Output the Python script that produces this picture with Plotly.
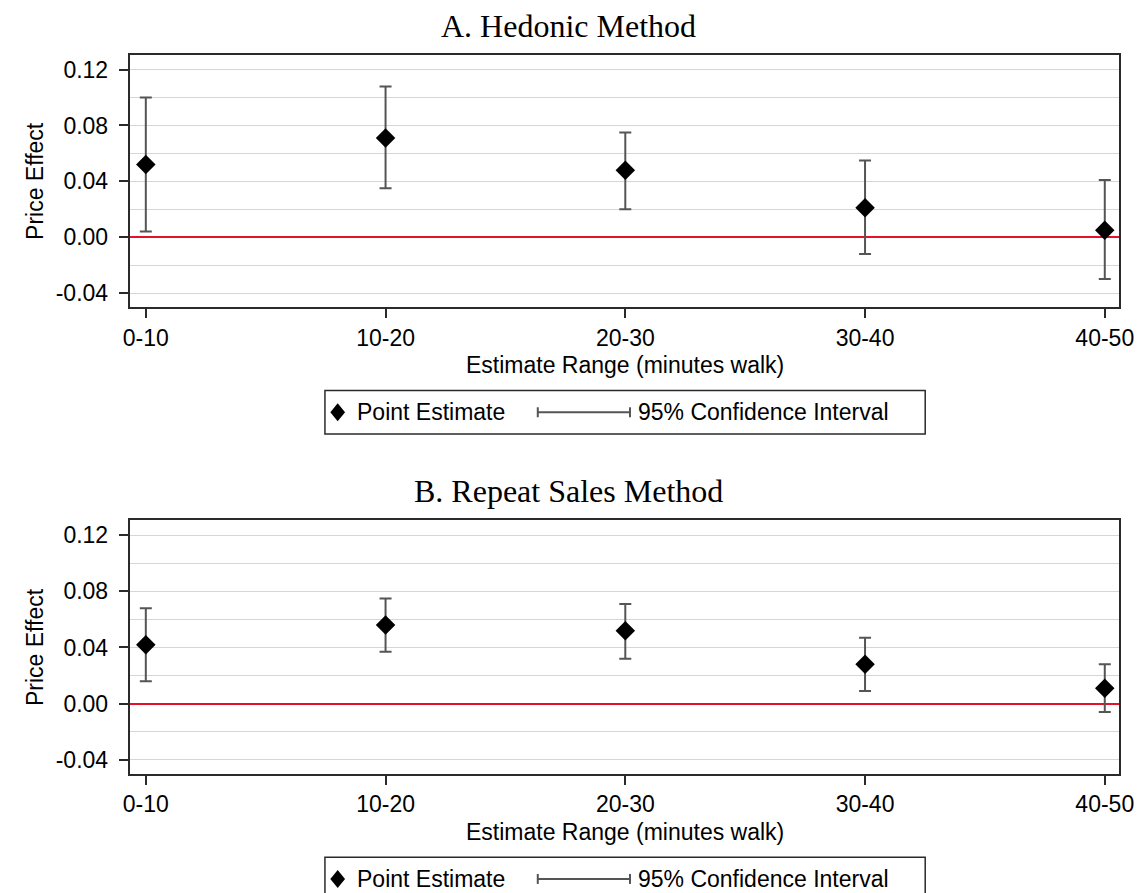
import plotly.graph_objects as go

# ---------------- data ----------------
categories = ["0-10", "10-20", "20-30", "30-40", "40-50"]

hedonic_est = [0.052, 0.071, 0.048, 0.021, 0.005]
hedonic_lo = [0.004, 0.035, 0.020, -0.012, -0.030]
hedonic_hi = [0.100, 0.108, 0.075, 0.055, 0.041]

repeat_est = [0.042, 0.056, 0.052, 0.028, 0.011]
repeat_lo = [0.016, 0.037, 0.032, 0.009, -0.006]
repeat_hi = [0.068, 0.075, 0.071, 0.047, 0.028]

y_tickvals = [-0.04, 0.00, 0.04, 0.08, 0.12]
y_ticktext = ["-0.04", "0.00", "0.04", "0.08", "0.12"]
y_minor = [-0.02, 0.02, 0.06, 0.10]

panel_titles = ["A. Hedonic Method", "B. Repeat Sales Method"]
x_title = "Estimate Range (minutes walk)"
y_title = "Price Effect"
legend_labels = ["Point Estimate", "95% Confidence Interval"]

# ---------------- layout helpers ----------------
W, H = 1147, 893


def px(x):
    return x / W


def py(y):
    return 1 - y / H


SANS = "Liberation Sans, Arial, Helvetica, sans-serif"
SERIF = "Liberation Serif, Times New Roman, serif"
FS = 23
ERR_COLOR = "#555555"
FRAME = "#2a2a2a"

fig = go.Figure()

panels = [
    (hedonic_est, hedonic_lo, hedonic_hi, "x", "y", 46.7, 299.0),
    (repeat_est, repeat_lo, repeat_hi, "x2", "y2", 512.3, 765.7),
]

for est, lo, hi, xa, ya, top, bot in panels:
    fig.add_trace(go.Scatter(
        x=categories, y=est, mode="markers", xaxis=xa, yaxis=ya,
        marker=dict(symbol="diamond", size=15, color="black"),
        error_y=dict(type="data", symmetric=False,
                     array=[h - e for h, e in zip(hi, est)],
                     arrayminus=[e - l for e, l in zip(est, lo)],
                     color=ERR_COLOR, thickness=2, width=6),
        showlegend=False, hoverinfo="skip",
    ))

xaxis_common = dict(
    range=[-0.067, 4.061], type="category",
    showline=True, mirror=True, linecolor=FRAME, linewidth=2,
    ticks="outside", ticklen=9, tickwidth=1.5, tickcolor=FRAME,
    showgrid=False, zeroline=False,
    tickfont=dict(family=SANS, size=FS, color="black"),
)
yaxis_common = dict(
    range=[-0.050, 0.1307],
    tickvals=y_tickvals, ticktext=y_ticktext,
    showline=True, mirror=True, linecolor=FRAME, linewidth=2,
    ticks="outside", ticklen=9, tickwidth=1.5, tickcolor=FRAME,
    showgrid=True, gridcolor="#d6d6d6", gridwidth=1.2,
    minor=dict(tickvals=y_minor, showgrid=True, gridcolor="#d6d6d6",
               gridwidth=1.2, ticks=""),
    zeroline=True, zerolinecolor="#e3122b", zerolinewidth=2,
    tickfont=dict(family=SANS, size=FS, color="black"),
    ticklabelstandoff=6,
)

dom_x = [px(117), px(1126)]
fig.update_layout(
    width=W, height=H,
    margin=dict(l=0, r=0, t=0, b=0),
    paper_bgcolor="white", plot_bgcolor="white",
    showlegend=False,
    xaxis=dict(domain=dom_x, anchor="y", **xaxis_common),
    yaxis=dict(domain=[py(299.0), py(46.7)], anchor="x", **yaxis_common),
    xaxis2=dict(domain=dom_x, anchor="y2", **xaxis_common),
    yaxis2=dict(domain=[py(765.7), py(512.3)], anchor="x2", **yaxis_common),
)

annotations = []
shapes = []
for i, (est, lo, hi, xa, ya, top, bot) in enumerate(panels):
    # panel title
    annotations.append(dict(
        text=panel_titles[i], x=px(564), y=py(top - 29), xref="paper", yref="paper",
        xanchor="center", yanchor="middle", showarrow=False,
        font=dict(family=SERIF, size=32, color="black")))
    # x title
    annotations.append(dict(
        text=x_title, x=px(622), y=py(bot + 58), xref="paper", yref="paper",
        xanchor="center", yanchor="middle", showarrow=False,
        font=dict(family=SANS, size=FS, color="black")))
    # y title
    annotations.append(dict(
        text=y_title, x=px(20.5), y=py((top + bot) / 2), xref="paper", yref="paper",
        xanchor="center", yanchor="middle", showarrow=False, textangle=-90,
        font=dict(family=SANS, size=FS, color="black")))

    # legend box
    ly0 = bot + 83.5
    ly1 = ly0 + 43.5
    lc = (ly0 + ly1) / 2
    shapes.append(dict(type="rect", xref="paper", yref="paper",
                       x0=px(316), x1=px(928), y0=py(ly1), y1=py(ly0),
                       line=dict(color=FRAME, width=1.5), fillcolor="white"))
    # diamond symbol
    cx, hw, hh = 329, 7.5, 9
    path = "M {} {} L {} {} L {} {} L {} {} Z".format(
        px(cx), py(lc - hh), px(cx + hw), py(lc), px(cx), py(lc + hh), px(cx - hw), py(lc))
    shapes.append(dict(type="path", xref="paper", yref="paper", path=path,
                       fillcolor="black", line=dict(color="black", width=0)))
    annotations.append(dict(
        text=legend_labels[0], x=px(347), y=py(lc), xref="paper", yref="paper",
        xanchor="left", yanchor="middle", showarrow=False,
        font=dict(family=SANS, size=FS, color="black")))
    # CI symbol
    shapes.append(dict(type="line", xref="paper", yref="paper",
                       x0=px(533), x1=px(627), y0=py(lc), y1=py(lc),
                       line=dict(color=ERR_COLOR, width=2)))
    for xx in (533, 627):
        shapes.append(dict(type="line", xref="paper", yref="paper",
                           x0=px(xx), x1=px(xx), y0=py(lc - 5), y1=py(lc + 5),
                           line=dict(color=ERR_COLOR, width=2)))
    annotations.append(dict(
        text=legend_labels[1], x=px(633), y=py(lc), xref="paper", yref="paper",
        xanchor="left", yanchor="middle", showarrow=False,
        font=dict(family=SANS, size=FS, color="black")))

fig.update_layout(annotations=annotations, shapes=shapes)

fig.write_html("out.html")
